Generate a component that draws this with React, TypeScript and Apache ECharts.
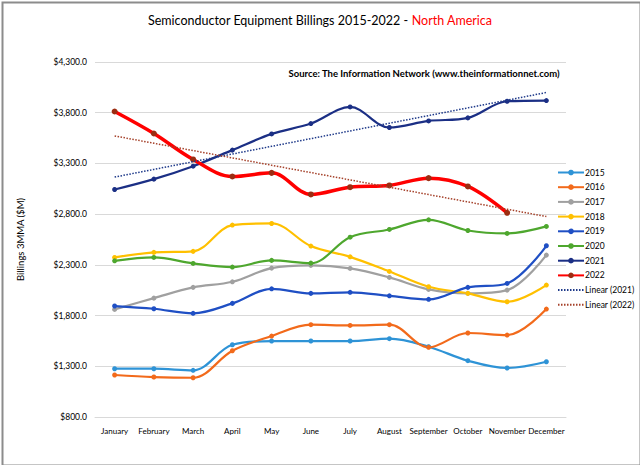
import React, { useEffect, useRef } from "react";
import * as echarts from "echarts";

const months = ["January", "February", "March", "April", "May", "June", "July", "August", "September", "October", "November", "December"];
const yTicks = [800, 1300, 1800, 2300, 2800, 3300, 3800, 4300];

const y2015 = [1276, 1276, 1260, 1512, 1549, 1549, 1549, 1572, 1493, 1355, 1283, 1345];
const y2016 = [1214, 1194, 1187, 1453, 1598, 1710, 1703, 1710, 1487, 1628, 1608, 1864];
const y2017 = [1861, 1972, 2078, 2133, 2268, 2295, 2265, 2176, 2058, 2019, 2051, 2396];
const y2018 = [2373, 2423, 2433, 2692, 2708, 2485, 2379, 2235, 2084, 2019, 1936, 2101];
const y2019 = [1894, 1867, 1822, 1920, 2064, 2019, 2029, 1995, 1960, 2078, 2117, 2488];
const y2020 = [2340, 2373, 2314, 2278, 2344, 2317, 2573, 2649, 2744, 2639, 2610, 2679];
const y2021 = [3043, 3145, 3273, 3431, 3591, 3693, 3857, 3654, 3719, 3749, 3913, 3920];
const y2022 = [3812, 3595, 3339, 3171, 3207, 2994, 3066, 3083, 3155, 3073, 2813];

// Excel-style linear trendline (least squares), drawn across all 12 months
function linearTrend(vals: number[], n: number): number[] {
  const m = vals.length;
  let sx = 0, sy = 0, sxx = 0, sxy = 0;
  vals.forEach((v, i) => {
    const x = i + 1;
    sx += x; sy += v; sxx += x * x; sxy += x * v;
  });
  const slope = (m * sxy - sx * sy) / (m * sxx - sx * sx);
  const icpt = (sy - slope * sx) / m;
  const out: number[] = [];
  for (let x = 1; x <= n; x++) out.push(Math.round((icpt + slope * x) * 10) / 10);
  return out;
}

const FONT = "Lato, 'Liberation Sans', sans-serif";

export default function App() {
  const ref = useRef<HTMLDivElement>(null);
  useEffect(() => {
    if (!ref.current) return;
    const chart = echarts.init(ref.current, null, { renderer: "svg" });
    const lineSeries = (name: string, data: number[], color: string, extra: any = {}) => ({
      name,
      type: "line",
      data,
      smooth: 0.35,
      symbol: "circle",
      symbolSize: 5,
      showSymbol: true,
      lineStyle: { color, width: 2.2 },
      itemStyle: { color },
      z: 3,
      ...extra,
    });
    const trendSeries = (name: string, data: number[], color: string) => ({
      name,
      type: "line",
      data,
      smooth: false,
      symbol: "none",
      lineStyle: { color, width: 1.5, type: [1.5, 1.5] },
      itemStyle: { color },
      z: 4,
    });
    chart.setOption({
      animation: false,
      backgroundColor: "#ffffff",
      textStyle: { fontFamily: FONT },
      title: {
        text: "{a|Semiconductor Equipment Billings 2015-2022 - }{b|North America}",
        left: "center",
        top: 9,
        textStyle: {
          fontWeight: "normal",
          rich: {
            a: { fontSize: 12.5, color: "#000", fontFamily: FONT, fontWeight: "normal" },
            b: { fontSize: 12.5, color: "#ff0000", fontFamily: FONT, fontWeight: "normal" },
          },
        },
      },
      graphic: [
        {
          type: "rect",
          left: 0,
          top: 0,
          shape: { x: 1, y: 1, width: 638, height: 463 },
          style: { fill: "none", stroke: "#8c8c8c", lineWidth: 2 },
          silent: true,
        },
        {
          type: "text",
          right: 80,
          top: 68,
          style: {
            text: "Source: The Information Network (www.theinformationnet.com)",
            font: `bold 9.5px ${FONT}`,
            fill: "#000",
          },
        },
      ],
      legend: {
        orient: "vertical",
        left: 557,
        top: 168,
        padding: 0,
        itemWidth: 26,
        itemHeight: 7,
        itemGap: 5.7,
        textStyle: { fontSize: 8.5, color: "#000", fontFamily: FONT, padding: [0, 0, 0, -4] },
        data: [
          "2015", "2016", "2017", "2018", "2019", "2020", "2021", "2022",
          { name: "Linear (2021)", itemStyle: { opacity: 0 } },
          { name: "Linear (2022)", itemStyle: { opacity: 0 } },
        ],
      },
      grid: { left: 95, right: 74, top: 62, bottom: 48 },
      xAxis: {
        type: "category",
        data: months,
        boundaryGap: true,
        axisLine: { show: true, lineStyle: { color: "#d9d9d9", width: 1 } },
        axisTick: { show: false },
        axisLabel: { fontSize: 8, color: "#000", margin: 10, interval: 0, fontFamily: FONT },
      },
      yAxis: {
        type: "value",
        min: 800,
        max: 4300,
        name: "Billings 3MMA ($M)",
        nameLocation: "middle",
        nameGap: 70,
        nameTextStyle: { fontSize: 9.5, color: "#000", fontFamily: FONT },
        axisLine: { show: false },
        axisTick: { show: false, customValues: yTicks },
        axisLabel: {
          customValues: yTicks,
          fontSize: 8.5,
          color: "#000",
          margin: 8,
          fontFamily: FONT,
          formatter: (v: number) =>
            "$" + v.toLocaleString("en-US", { minimumFractionDigits: 1, maximumFractionDigits: 1 }),
        },
        splitLine: { show: true, lineStyle: { color: "#d9d9d9", width: 1 } },
      },
      series: [
        lineSeries("2015", y2015, "#2E93D6"),
        lineSeries("2016", y2016, "#F26A1B"),
        lineSeries("2017", y2017, "#A0A0A0"),
        lineSeries("2018", y2018, "#FFC000"),
        lineSeries("2019", y2019, "#1F4FC4"),
        lineSeries("2020", y2020, "#4EA72E"),
        lineSeries("2021", y2021, "#1B2F85"),
        lineSeries("2022", y2022, "#FF0000", {
          lineStyle: { color: "#FF0000", width: 3.5 },
          itemStyle: { color: "#9C2D12" },
          symbolSize: 6,
        }),
        trendSeries("Linear (2021)", linearTrend(y2021, 12), "#1F3A8A"),
        trendSeries("Linear (2022)", linearTrend(y2022, 12), "#A5412A"),
      ],
    });
    return () => chart.dispose();
  }, []);
  return <div ref={ref} style={{ position: "fixed", left: 0, top: 0, width: 640, height: 465 }} />;
}
